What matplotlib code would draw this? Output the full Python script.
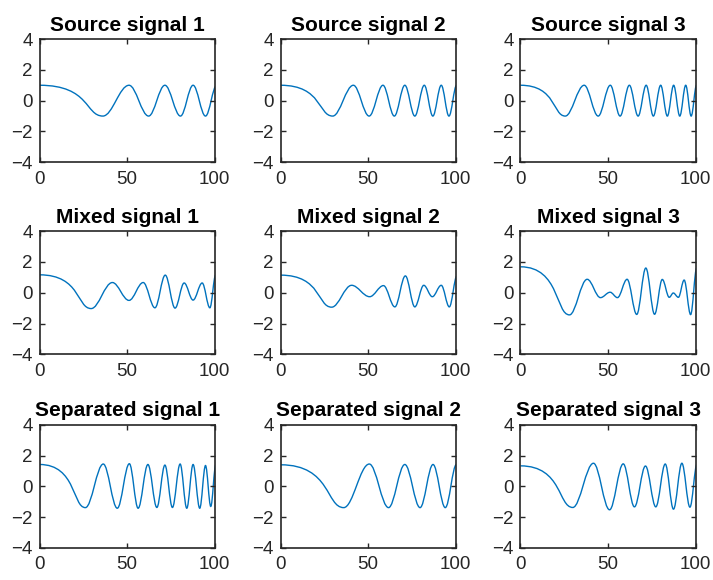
import matplotlib
matplotlib.use("Agg")
import matplotlib.pyplot as plt
from matplotlib.path import Path
from matplotlib.patches import PathPatch

# extrema: (time, value); first point is the flat start,
# last point is the next extremum just past t=100 (clipped by the axes)
src1_t = [0, 36.2, 51.1, 62.3, 71.6, 80.5, 87.7, 94.8, 101.2]
src1_v = [1.0, -1.0, 1.0, -1.0, 1.0, -1.0, 1.0, -1.0, 1.0]
src2_t = [0, 29.8, 41.6, 50.6, 58.5, 65.0, 71.0, 76.7, 82.1, 87.0, 91.8, 96.2, 100.6]
src2_v = [1.0, -1.0, 1.0, -1.0, 1.0, -1.0, 1.0, -1.0, 1.0, -1.0, 1.0, -1.0, 1.0]
src3_t = [0, 25.6, 36.4, 44.4, 51.3, 56.9, 62.2, 67.2, 71.8, 75.9, 80.1, 83.9, 87.5,
          91.0, 94.4, 97.5, 100.6]
src3_v = [1.0, -1.0, 1.0, -1.0, 1.0, -1.0, 1.0, -1.0, 1.0, -1.0, 1.0, -1.0, 1.0,
          -1.0, 1.0, -1.0, 1.0]

mix1_t = [0, 29.5, 41.6, 51.1, 59.2, 65.9, 71.8, 77.4, 82.6, 87.7, 92.9, 97.3, 100.6]
mix1_v = [1.16, -1.03, 0.66, -0.5, 0.66, -0.98, 1.14, -1.0, 0.63, -0.48, 0.63, -0.98, 1.14]
mix2_t = [0, 29.2, 40.6, 50.9, 58.8, 65.3, 71.3, 76.7, 81.8, 86.7, 91.8, 96.4, 100.8]
mix2_v = [1.14, -0.94, 0.48, -0.26, 0.46, -0.92, 1.09, -0.92, 0.48, -0.26, 0.48, -0.92, 1.09]
mix3_t = [0, 28.0, 38.1, 45.7, 51.2, 55.4, 60.9, 66.4, 71.6, 76.6, 81.0, 85.0, 87.3,
          90.2, 93.5, 97.2, 100.7]
mix3_v = [1.68, -1.44, 0.87, -0.32, 0.03, -0.32, 0.87, -1.41, 1.6, -1.4, 0.86, -0.3, -0.02,
          -0.3, 0.82, -1.42, 1.6]

sep1_t = [0, 26.2, 36.4, 44.4, 51.3, 56.3, 61.9, 67.0, 71.6, 75.9, 80.3, 84.1, 87.7,
          91.5, 94.8, 97.8, 100.7]
sep1_v = [1.42, -1.38, 1.45, -1.42, 1.47, -1.42, 1.42, -1.37, 1.38, -1.37, 1.45, -1.42, 1.42,
          -1.42, 1.35, -1.3, 1.4]
sep2_t = [0, 36.1, 50.7, 61.7, 71.0, 79.7, 87.1, 94.1, 100.5]
sep2_v = [1.4, -1.38, 1.45, -1.38, 1.42, -1.38, 1.42, -1.38, 1.42]
sep3_t = [0, 29.9, 41.7, 50.9, 58.7, 65.1, 71.4, 77.3, 82.7, 87.4, 92.2, 96.8, 100.9]
sep3_v = [1.33, -1.37, 1.5, -1.52, 1.46, -1.33, 1.32, -1.33, 1.45, -1.48, 1.5, -1.35, 1.45]

titles = ["Source signal 1", "Source signal 2", "Source signal 3",
          "Mixed signal 1", "Mixed signal 2", "Mixed signal 3",
          "Separated signal 1", "Separated signal 2", "Separated signal 3"]
signals = [(src1_t, src1_v), (src2_t, src2_v), (src3_t, src3_v),
           (mix1_t, mix1_v), (mix2_t, mix2_v), (mix3_t, mix3_v),
           (sep1_t, sep1_v), (sep2_t, sep2_v), (sep3_t, sep3_v)]

LINE = "#0072BD"
AXC = "#262626"


def extrema_path(ts, vs, k=0.364, first=(0.8, 0.28)):
    """Smooth curve through successive extrema (horizontal tangent at each)."""
    verts = [(ts[0], vs[0])]
    codes = [Path.MOVETO]
    for i in range(len(ts) - 1):
        w = ts[i + 1] - ts[i]
        a, b = first if i == 0 else (k, k)
        verts += [(ts[i] + a * w, vs[i]), (ts[i + 1] - b * w, vs[i + 1]),
                  (ts[i + 1], vs[i + 1])]
        codes += [Path.CURVE4] * 3
    return Path(verts, codes)


plt.rcParams["font.family"] = ["Liberation Sans", "DejaVu Sans"]

fig = plt.figure(figsize=(7.13, 5.80), dpi=100)
lefts = [0.0555, 0.3935, 0.7300]
bottoms = [0.7202, 0.3891, 0.0552]
w, h = 0.2455, 0.2125

for idx, (title, (ts, vs)) in enumerate(zip(titles, signals)):
    r, c = divmod(idx, 3)
    ax = fig.add_axes([lefts[c], bottoms[r], w, h])
    ax.add_patch(PathPatch(extrema_path(ts, vs), fill=False, edgecolor=LINE, lw=1.0))
    ax.set_xlim(0, 100)
    ax.set_ylim(-4, 4)
    ax.set_xticks([0, 50, 100])
    ax.set_yticks([-4, -2, 0, 2, 4])
    ax.tick_params(direction="in", length=3.5, width=1.0, colors=AXC,
                   labelsize=13.5, top=True, right=True, pad=5)
    ax.tick_params(axis="x", pad=6)
    for sp in ax.spines.values():
        sp.set_color(AXC)
        sp.set_linewidth(1.2)
    ax.set_title(title, fontsize=15, fontweight="bold", pad=6)

fig.savefig("out.png", dpi=100)
